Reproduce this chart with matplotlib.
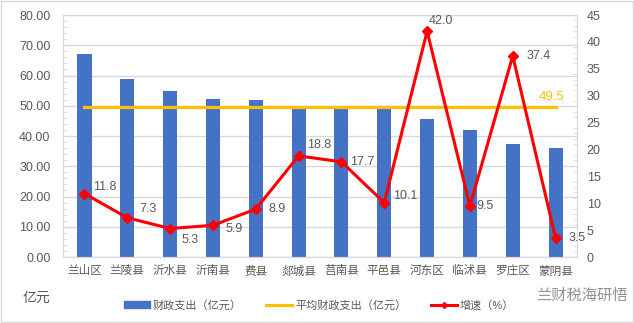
import numpy as np
import matplotlib.pyplot as plt
from matplotlib.patches import Rectangle
from matplotlib.lines import Line2D
from matplotlib.ticker import MultipleLocator, FormatStrFormatter

plt.rcParams['font.family'] = ['Liberation Sans', 'Noto Sans CJK SC', 'DejaVu Sans']

counties = ['兰山区', '兰陵县', '沂水县', '沂南县', '费县', '郯城县',
            '莒南县', '平邑县', '河东区', '临沭县', '罗庄区', '蒙阴县']
spending = [67.1, 58.8, 54.9, 52.2, 51.9, 49.3, 49.2, 49.1, 45.6, 42.0, 37.4, 36.0]
growth = [11.8, 7.3, 5.3, 5.9, 8.9, 18.8, 17.7, 10.1, 42.0, 9.5, 37.4, 3.5]
avg_spending = 49.5

# label offsets in points (dx, dy) for the growth labels
label_offsets = [(6, 5), (9, 6), (8, -8), (9, -3), (9, 0), (6, 8),
                 (6, 0), (6, 5), (1, 7), (5, 0), (10, 0), (9, 0)]

grey = '#595959'
grid = '#D9D9D9'

fig = plt.figure(figsize=(6.34, 3.23), dpi=100)
ax = fig.add_axes([0.0994, 0.2043, 0.8107, 0.7492])
ax2 = ax.twinx()

x = np.arange(len(counties))
ax.bar(x, spending, width=0.33, color='#4472C4', zorder=2)
ax.plot([x[0], x[-1]], [avg_spending, avg_spending], color='#FFC000', lw=2.3, zorder=3)
ax.annotate(f'{avg_spending:.1f}', (x[-1], avg_spending), xytext=(-12, 3),
            textcoords='offset points', color='#FFC000', fontsize=9.5,
            va='bottom', ha='left')

ax.set_xlim(-0.5, len(counties) - 0.5)
ax.set_ylim(0, 80)
ax.yaxis.set_major_locator(MultipleLocator(10))
ax.yaxis.set_minor_locator(MultipleLocator(2))
ax.yaxis.set_major_formatter(FormatStrFormatter('%.2f'))
ax.grid(axis='y', color=grid, lw=1, zorder=0)
ax.set_axisbelow(True)
ax.set_xticks(x)
ax.set_xticklabels(counties)
ax.tick_params(axis='x', length=0, pad=6, colors=grey, labelsize=8.4)
ax.tick_params(axis='y', which='major', length=0, pad=9, colors=grey, labelsize=9)
ax.tick_params(axis='y', which='minor', direction='in', length=3, color=grid)

ax2.plot(x, growth, color='#FF0000', lw=2.2, marker='D', markersize=5, zorder=4)
for xi, g, (dx, dy) in zip(x, growth, label_offsets):
    ax2.annotate(f'{g:.1f}', (xi, g), xytext=(dx, dy), textcoords='offset points',
                 ha='left', va='center', fontsize=9, color=grey)
ax2.set_ylim(0, 45)
ax2.yaxis.set_major_locator(MultipleLocator(5))
ax2.yaxis.set_minor_locator(MultipleLocator(1))
ax2.tick_params(axis='y', which='major', length=0, pad=7, colors=grey, labelsize=9)
ax2.tick_params(axis='y', which='minor', direction='in', length=3, color=grid)

for a in (ax, ax2):
    for s in a.spines.values():
        s.set_color(grid)

fig.text(0.035, 0.078, '亿元', color=grey, fontsize=10, va='center')

handles = [Rectangle((0, 0), 1, 1, color='#4472C4'),
           Line2D([], [], color='#FFC000', lw=2.3),
           Line2D([], [], color='#FF0000', lw=2.2, marker='D', markersize=3)]
fig.legend(handles, ['财政支出（亿元）', '平均财政支出（亿元）', '增速（%）'],
           loc='center left', bbox_to_anchor=(0.18, 0.055), ncol=3, frameon=False,
           fontsize=8, labelcolor=grey, handlelength=2.3, handleheight=0.5,
           columnspacing=2.2, handletextpad=0.3)

fig.text(0.99, 0.085, '兰财税海研悟', color='#777777', fontsize=11,
         ha='right', va='center', alpha=0.8)

fig.patches.append(Rectangle((0.001, 0.002), 0.997, 0.995, transform=fig.transFigure,
                             fill=False, edgecolor=grid, lw=1))

fig.savefig('out.png', dpi=100)
